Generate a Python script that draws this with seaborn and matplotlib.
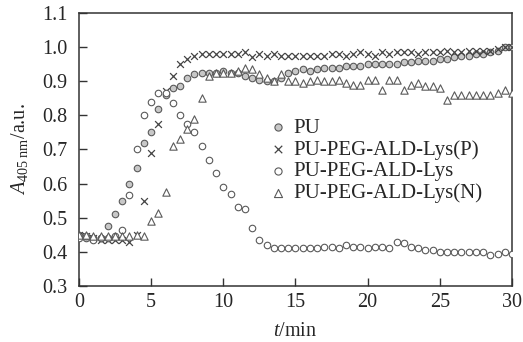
import numpy as np
import pandas as pd
import matplotlib
matplotlib.use("Agg")
import matplotlib.pyplot as plt
import seaborn as sns

# sampling every 0.5 min
t = np.arange(0, 30.5, 0.5)

pu = [0.45, 0.44, 0.44, 0.44, 0.475, 0.51, 0.55, 0.60, 0.645, 0.72,
      0.75, 0.82, 0.86, 0.88, 0.885, 0.91, 0.92, 0.925, 0.925, 0.925,
      0.93, 0.925, 0.925, 0.915, 0.91, 0.905, 0.90, 0.90, 0.91, 0.925,
      0.93, 0.935, 0.93, 0.935, 0.94, 0.94, 0.94, 0.945, 0.945, 0.945,
      0.95, 0.95, 0.95, 0.95, 0.95, 0.955, 0.955, 0.96, 0.96, 0.96,
      0.965, 0.965, 0.97, 0.975, 0.975, 0.98, 0.98, 0.985, 0.99, 1.0, 1.0]

lys_p = [0.45, 0.445, 0.44, 0.435, 0.435, 0.435, 0.435, 0.43, 0.45, 0.55,
         0.69, 0.775, 0.87, 0.915, 0.95, 0.965, 0.975, 0.98, 0.98, 0.98,
         0.98, 0.98, 0.98, 0.985, 0.97, 0.98, 0.975, 0.98, 0.975, 0.975,
         0.975, 0.975, 0.975, 0.975, 0.975, 0.98, 0.98, 0.975, 0.98, 0.985,
         0.98, 0.975, 0.985, 0.98, 0.985, 0.985, 0.985, 0.98, 0.985, 0.985,
         0.985, 0.99, 0.985, 0.985, 0.99, 0.99, 0.99, 0.99, 0.995, 1.0, 1.0]

lys = [0.44, 0.445, 0.435, 0.44, 0.44, 0.445, 0.465, 0.567, 0.70, 0.80,
       0.84, 0.866, 0.865, 0.837, 0.80, 0.775, 0.75, 0.71, 0.67, 0.63,
       0.59, 0.57, 0.53, 0.525, 0.47, 0.435, 0.42, 0.41, 0.41, 0.41,
       0.41, 0.41, 0.41, 0.41, 0.415, 0.415, 0.41, 0.42, 0.415, 0.415,
       0.41, 0.415, 0.415, 0.41, 0.43, 0.425, 0.415, 0.41, 0.405, 0.405,
       0.40, 0.40, 0.40, 0.40, 0.40, 0.40, 0.40, 0.39, 0.395, 0.40, 0.395]

lys_n = [0.45, 0.45, 0.445, 0.445, 0.445, 0.445, 0.445, 0.445, 0.45, 0.445,
         0.49, 0.515, 0.575, 0.71, 0.73, 0.76, 0.79, 0.85, 0.915, 0.925,
         0.925, 0.925, 0.93, 0.94, 0.935, 0.92, 0.91, 0.90, 0.92, 0.90,
         0.90, 0.895, 0.90, 0.905, 0.90, 0.90, 0.905, 0.895, 0.89, 0.89,
         0.905, 0.905, 0.875, 0.905, 0.905, 0.875, 0.89, 0.895, 0.885, 0.885,
         0.88, 0.845, 0.86, 0.86, 0.86, 0.86, 0.86, 0.86, 0.865, 0.875, 0.865]

labels = ["PU", "PU-PEG-ALD-Lys(P)", "PU-PEG-ALD-Lys", "PU-PEG-ALD-Lys(N)"]

df = pd.DataFrame({"t": t, "PU": pu, "P": lys_p, "L": lys, "N": lys_n})

sns.set_style("ticks")
plt.rcParams['font.family'] = ['Liberation Serif', 'DejaVu Serif']
plt.rcParams['mathtext.fontset'] = 'custom'
plt.rcParams['mathtext.rm'] = 'Liberation Serif'
plt.rcParams['mathtext.it'] = 'Liberation Serif:italic'

fig = plt.figure(figsize=(5.23, 3.42), dpi=100)
ax = fig.add_axes([0.151, 0.164, 0.828, 0.798])

edge = '#5a5a5a'
sns.scatterplot(data=df, x="t", y="PU", marker='o', s=22, facecolor='#c8c8c8',
                edgecolor=edge, linewidth=0.8, label=labels[0], ax=ax, zorder=3)
sns.scatterplot(data=df, x="t", y="P", marker='x', s=24, color='#444444',
                linewidth=0.9, label=labels[1], ax=ax, zorder=3)
sns.scatterplot(data=df, x="t", y="L", marker='o', s=22, facecolor='white',
                edgecolor=edge, linewidth=0.8, label=labels[2], ax=ax, zorder=3)
sns.scatterplot(data=df, x="t", y="N", marker='^', s=28, facecolor='white',
                edgecolor=edge, linewidth=0.8, label=labels[3], ax=ax, zorder=3)

ax.set_xlim(0, 30)
ax.set_ylim(0.3, 1.1)
ax.set_xticks([0, 5, 10, 15, 20, 25, 30])
ax.set_yticks([0.3, 0.4, 0.5, 0.6, 0.7, 0.8, 0.9, 1.0, 1.1])
ax.set_yticklabels(["%.1f" % v for v in ax.get_yticks()])

ax.tick_params(axis='x', direction='in', length=6, width=1, pad=5,
               labelsize=14.5, top=False, color='#333333')
ax.tick_params(axis='y', direction='in', length=6, width=1, pad=8,
               labelsize=14.5, right=False, color='#333333')
for sp in ax.spines.values():
    sp.set_visible(True)
    sp.set_linewidth(1.1)
    sp.set_color('#333333')

ax.set_xlabel(r"$t$/min", fontsize=14.5, labelpad=7)
ax.set_ylabel(r"$A_{\mathrm{405\ nm}}$/a.u.", fontsize=14.5, labelpad=9)

ax.legend(loc='upper left', bbox_to_anchor=(0.412, 0.645), frameon=False,
          fontsize=15, handletextpad=0.15, labelspacing=0.1, borderaxespad=0,
          handlelength=1.2, markerscale=1.1)

fig.savefig("out.png", dpi=100)
